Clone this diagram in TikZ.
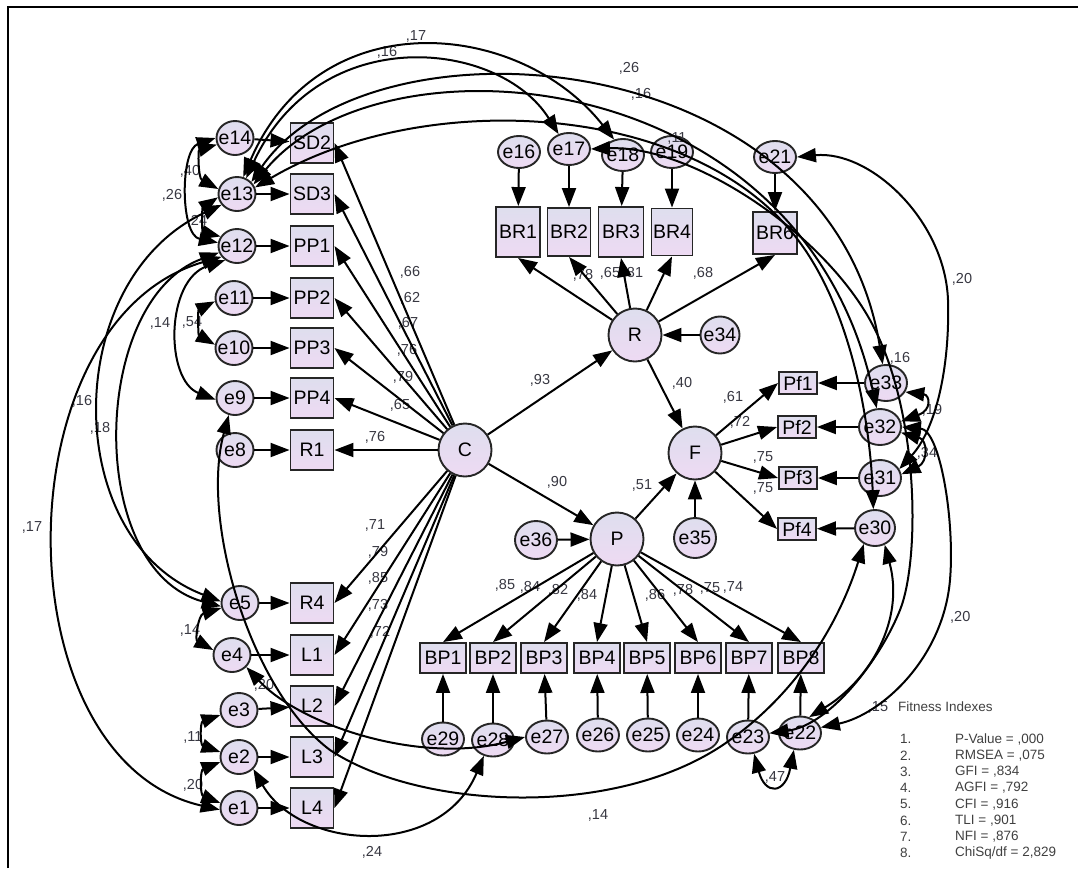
\documentclass[tikz,border=0pt]{standalone}
\usepackage{fontspec}
\setmainfont{Liberation Sans}
\usetikzlibrary{shapes.geometric,arrows.meta}
\definecolor{lavT}{RGB}{222,222,238}
\definecolor{lavB}{RGB}{238,218,243}
\definecolor{lblc}{RGB}{55,55,65}
\newcommand\Zc[1]{\makebox[0pt]{#1}}
\begin{document}
\begin{tikzpicture}[x=1pt,y=-1pt,
  every node/.style={font=\fontsize{19.5}{20}\selectfont},
  shp/.style={draw=black!85,line width=1.9pt,top color=lavT,bottom color=lavB,inner sep=0pt},
  eo/.style={shp,ellipse,minimum width=37pt,minimum height=34pt},
  ew/.style={shp,ellipse,minimum width=42pt,minimum height=33pt},
  bx/.style={shp,rectangle,minimum width=43pt,minimum height=40pt},
  brb/.style={shp,rectangle,minimum width=44pt,minimum height=50pt},
  bpb/.style={shp,rectangle,minimum width=46pt,minimum height=30pt},
  pfb/.style={shp,rectangle,minimum width=38pt,minimum height=22pt},
  lat/.style={shp,circle,minimum size=53pt},
  lb/.style={font=\fontsize{14.5}{15}\selectfont,text=lblc,inner sep=0pt},
  fi/.style={font=\fontsize{13.5}{14}\selectfont,text=black!75,inner sep=0pt,anchor=west},
  ar/.style={line width=2pt,-{Triangle[length=19pt,width=14pt]}},
  cov/.style={line width=2pt,{Triangle[length=19pt,width=14pt]}-{Triangle[length=19pt,width=14pt]}}
]
\useasboundingbox (0,0) rectangle (1078,868);
\draw[line width=2.5pt] (8,868) -- (8,7) -- (1078,7);

% left error terms
\node[eo] (e14) at (235,138) {\Zc{e14}};
\node[eo] (e13) at (237,194) {\Zc{e13}};
\node[eo] (e12) at (237,246) {\Zc{e12}};
\node[eo] (e11) at (234,298) {\Zc{e11}};
\node[eo] (e10) at (234,348) {\Zc{e10}};
\node[eo] (e9) at (235,398) {\Zc{e9}};
\node[eo] (e8) at (235,450) {\Zc{e8}};
\node[eo] (e5) at (240,603) {\Zc{e5}};
\node[eo] (e4) at (232,655) {\Zc{e4}};
\node[eo] (e3) at (239,710) {\Zc{e3}};
\node[eo] (e2) at (239,757) {\Zc{e2}};
\node[eo] (e1) at (239,808) {\Zc{e1}};
% left indicators
\node[bx] (SD2) at (312,143) {SD2};
\node[bx] (SD3) at (312,194) {SD3};
\node[bx] (PP1) at (312,246) {PP1};
\node[bx] (PP2) at (312,298) {PP2};
\node[bx] (PP3) at (312,348) {PP3};
\node[bx] (PP4) at (312,398) {PP4};
\node[bx] (R1) at (312,450) {R1};
\node[bx] (R4) at (312,603) {R4};
\node[bx] (L1) at (312,655) {L1};
\node[bx] (L2) at (312,706) {L2};
\node[bx] (L3) at (312,757) {L3};
\node[bx] (L4) at (312,808) {L4};
% latent
\node[lat] (C) at (465,450) {C};
\node[lat] (R) at (635,335) {R};
\node[lat] (F) at (695,453) {F};
\node[lat] (P) at (617,539) {P};
\node[shp,ellipse,minimum width=39pt,minimum height=37pt] (e34) at (720,335) {\Zc{e34}};
\node[shp,ellipse,minimum width=42pt,minimum height=40pt] (e35) at (695,538) {\Zc{e35}};
\node[shp,ellipse,minimum width=42pt,minimum height=38pt] (e36) at (536,540) {\Zc{e36}};
% BR
\node[brb] (BR1) at (518,232) {BR1};
\node[brb,minimum width=43pt,minimum height=48pt] (BR2) at (569,232) {BR2};
\node[brb,minimum width=45pt] (BR3) at (621,232) {BR3};
\node[brb,minimum width=41pt,minimum height=47pt] (BR4) at (672,232) {BR4};
\node[brb,minimum height=42pt] (BR6) at (775,233) {BR6};
\node[ew,minimum height=32pt] (e16) at (519,152) {\Zc{e16}};
\node[ew,minimum height=32pt] (e17) at (569,149) {\Zc{e17}};
\node[ew,minimum height=32pt] (e18) at (623,155) {\Zc{e18}};
\node[ew,minimum height=32pt] (e19) at (672,152) {\Zc{e19}};
\node[ew,minimum height=32pt] (e21) at (775,157) {\Zc{e21}};
% Pf
\node[pfb] (Pf1) at (798,383) {Pf1};
\node[pfb] (Pf2) at (797,427) {Pf2};
\node[pfb] (Pf3) at (798,478) {Pf3};
\node[pfb] (Pf4) at (797,529) {Pf4};
\node[ew,minimum height=36pt] (e33) at (886,383) {\Zc{e33}};
\node[ew,minimum height=36pt] (e32) at (880,427) {\Zc{e32}};
\node[ew,minimum height=36pt] (e31) at (880,478) {\Zc{e31}};
\node[ew,minimum width=40pt,minimum height=36pt] (e30) at (875,528) {\Zc{e30}};
% BP
\node[bpb] (BP1) at (443,658) {BP1};
\node[bpb] (BP2) at (493,658) {BP2};
\node[bpb] (BP3) at (544,658) {BP3};
\node[bpb] (BP4) at (597,658) {BP4};
\node[bpb] (BP5) at (647,658) {BP5};
\node[bpb] (BP6) at (698,658) {BP6};
\node[bpb] (BP7) at (749,658) {BP7};
\node[bpb] (BP8) at (801,658) {BP8};
\node[ew] (e29) at (443,739) {\Zc{e29}};
\node[ew] (e28) at (493,740) {\Zc{e28}};
\node[ew] (e27) at (547,737) {\Zc{e27}};
\node[ew] (e26) at (598,735) {\Zc{e26}};
\node[ew] (e25) at (648,735) {\Zc{e25}};
\node[ew] (e24) at (698,735) {\Zc{e24}};
\node[ew] (e23) at (748,737) {\Zc{e23}};
\node[ew] (e22) at (800,733) {\Zc{e22}};

% labels
\node[lb] at (190,171) {,40};
\node[lb] at (172,195) {,26};
\node[lb] at (197,221) {,24};
\node[lb] at (192,322) {,54};
\node[lb] at (160,323) {,14};
\node[lb] at (82,401) {,16};
\node[lb] at (100,428) {,18};
\node[lb] at (32,527) {,17};
\node[lb] at (190,630) {,14};
\node[lb] at (193,737) {,11};
\node[lb] at (193,785) {,20};
\node[lb] at (264,685) {,20};
\node[lb] at (372,852) {,24};
\node[lb] at (598,815) {,14};
\node[lb] at (387,52) {,16};
\node[lb] at (416,36) {,17};
\node[lb] at (629,68) {,26};
\node[lb] at (641,94) {,16};
\node[lb] at (677,138) {,11};
\node[lb] at (962,279) {,20};
\node[lb] at (900,358) {,16};
\node[lb] at (932,410) {,19};
\node[lb] at (927,453) {,34};
\node[lb,anchor=west] at (950,617) {,20};
\node[lb] at (775,777) {,47};
\node[lb] at (878,707) {,15};
% C loadings
\node[lb] at (410,272) {,66};
\node[lb] at (410,298) {,62};
\node[lb] at (408,323) {,67};
\node[lb] at (407,350) {,76};
\node[lb] at (403,377) {,79};
\node[lb] at (400,405) {,65};
\node[lb] at (375,437) {,76};
\node[lb] at (375,525) {,71};
\node[lb] at (378,552) {,79};
\node[lb] at (378,578) {,85};
\node[lb] at (378,605) {,73};
\node[lb] at (380,632) {,72};
\node[lb] at (540,380) {,93};
\node[lb] at (557,482) {,90};
% R, F, P loadings
\node[lb] at (583,275) {,78};
\node[lb] at (610,273) {,65};
\node[lb] at (633,273) {,81};
\node[lb] at (703,273) {,68};
\node[lb] at (682,383) {,40};
\node[lb] at (642,485) {,51};
\node[lb] at (733,397) {,61};
\node[lb] at (740,422) {,72};
\node[lb] at (763,457) {,75};
\node[lb] at (763,488) {,75};
\node[lb] at (505,585) {,85};
\node[lb] at (530,587) {,84};
\node[lb] at (558,590) {,82};
\node[lb] at (587,595) {,84};
\node[lb] at (655,595) {,86};
\node[lb] at (683,590) {,78};
\node[lb] at (710,588) {,75};
\node[lb] at (733,587) {,74};
% fitness
\node[fi] at (898,707) {Fitness Indexes};
\foreach \i/\t in {1/{P-Value = ,000},2/{RMSEA = ,075},3/{GFI = ,834},4/{AGFI = ,792},5/{CFI = ,916},6/{TLI = ,901},7/{NFI = ,876},8/{ChiSq/df = 2,829}}{
  \node[fi] at (900,{739+16.3*(\i-1)}) {\i.};
  \node[fi] at (955,{739+16.3*(\i-1)}) {\t};
}

% structural arrows
\foreach \a/\b in {e14/SD2,e13/SD3,e12/PP1,e11/PP2,e10/PP3,e9/PP4,e8/R1,e5/R4,e4/L1,e3/L2,e2/L3,e1/L4,
  e16/BR1,e17/BR2,e18/BR3,e19/BR4,e21/BR6,e33/Pf1,e32/Pf2,e31/Pf3,e30/Pf4,
  e29/BP1,e28/BP2,e27/BP3,e26/BP4,e25/BP5,e24/BP6,e23/BP7,e22/BP8,
  e34/R,e35/F,e36/P,C/R,C/P,R/F,P/F}
  \draw[ar] (\a) -- (\b);
\foreach \b in {SD2,SD3,PP1,PP2,PP3,PP4,R1,R4,L1,L2,L3,L4}
  \draw[ar] (C) -- (\b.east);
\foreach \b in {BR1,BR2,BR3,BR4,BR6}
  \draw[ar] (R) -- (\b.south);
\foreach \b in {BP1,BP2,BP3,BP4,BP5,BP6,BP7,BP8}
  \draw[ar] (P) -- (\b.north);
\foreach \b in {Pf1,Pf2,Pf3,Pf4}
  \draw[ar] (F) -- (\b.west);

% covariances left
\draw[cov] (e14.200) .. controls (198,150) and (198,178) .. (e13.165);
\draw[cov] (e14.180) .. controls (180,150) and (180,235) .. (e12.170);
\draw[cov] (e13.190) .. controls (202,208) and (202,232) .. (e12.150);
\draw[cov] (e11.190) .. controls (198,310) and (198,335) .. (e10.170);
\draw[cov] (e12.230) .. controls (165,280) and (165,380) .. (e9.185);
\draw[cov] (e13.215) .. controls (60,280) and (60,540) .. (e5.175);
\draw[cov] (e12.200) .. controls (90,300) and (85,570) .. (e5.190);
\draw[cov] (e12.215) .. controls (0,320) and (0,760) .. (e1.185);
\draw[cov] (e5.195) .. controls (198,615) and (195,640) .. (e4.165);
\draw[cov] (e3.195) .. controls (200,722) and (200,745) .. (e2.165);
\draw[cov] (e2.195) .. controls (200,770) and (200,795) .. (e1.165);
\draw[cov] (e4.-40) .. controls (300,725) and (420,765) .. (e27.west);
\draw[cov] (e2.-40) .. controls (300,850) and (440,860) .. (e28.240);
\draw[cov] (e9.250) .. controls (200,520) and (250,690) .. (330,750) .. controls (420,810) and (620,820) .. (730,740) .. controls (800,690) and (840,620) .. (e30.235);
\draw[cov] (e23.-70) .. controls (765,795) and (785,795) .. (e22.-110);
% top
\draw[cov] (e13.70) .. controls (320,0) and (520,20) .. (e18.120);
\draw[cov] (e13.60) .. controls (320,20) and (500,40) .. (e17.125);
\draw[cov] (e13.40) .. controls (370,10) and (830,40) .. (e33.100);
\draw[cov] (e13.30) .. controls (380,30) and (800,60) .. (e32.100);
\draw[cov] (e13.20) .. controls (420,90) and (680,100) .. (790,230) .. controls (850,300) and (870,420) .. (e30.95);
\draw[cov] (e17.east) .. controls (690,145) and (820,230) .. (870,320) .. controls (920,410) and (920,560) .. (900,610) .. controls (880,660) and (830,725) .. (e23.10);
% right
\draw[cov] (e21.east) .. controls (870,150) and (945,220) .. (948,300) .. controls (950,370) and (935,430) .. (e31.25);
\draw[cov] (e33.-25) .. controls (930,395) and (932,410) .. (e32.15);
\draw[cov] (e32.-15) .. controls (928,440) and (928,462) .. (e31.10);
\draw[cov] (e32.east) .. controls (940,430) and (955,520) .. (950,580) .. controls (943,660) and (880,715) .. (e22.15);
\draw[cov] (e30.-60) .. controls (905,620) and (870,680) .. (e22.60);
\end{tikzpicture}
\end{document}
